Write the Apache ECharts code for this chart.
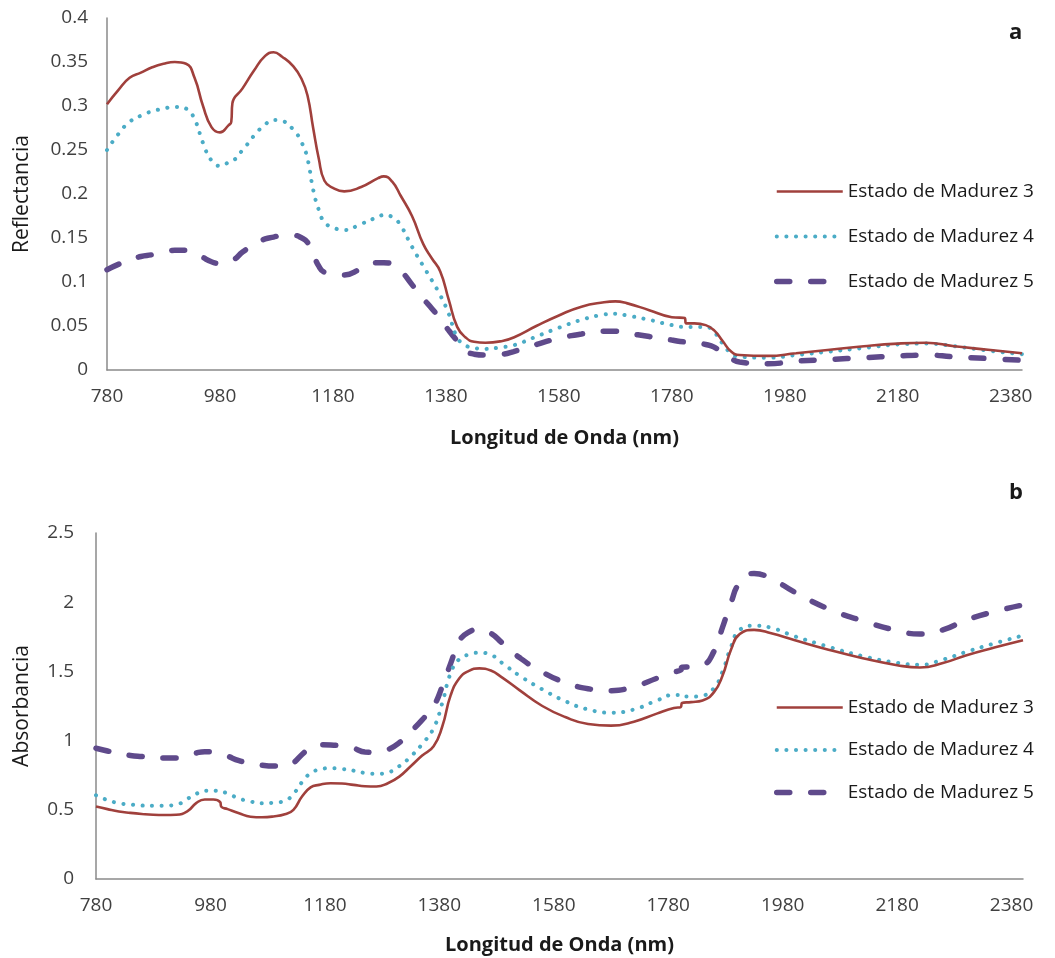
<!DOCTYPE html>
<html>
<head>
<meta charset="utf-8">
<script src="https://cdn.jsdelivr.net/npm/echarts@6/dist/echarts.min.js"></script>
<style>
  html, body { margin: 0; padding: 0; background: #ffffff; }
  #chart { width: 1055px; height: 958px; }
</style>
</head>
<body>
<div id="chart"></div>
<script>
// Series names (ripeness stages)
const stageNames = ['Estado de Madurez 3', 'Estado de Madurez 4', 'Estado de Madurez 5'];

// Panel a: reflectance spectra
const nmTop = [780, 800, 820, 840, 860, 880, 900, 920, 935, 950, 965, 980, 995, 1000, 1002, 1020, 1040, 1060,
  1075, 1090, 1110, 1125, 1135, 1145, 1155, 1165, 1180, 1200, 1230, 1260, 1270, 1285, 1300, 1320, 1340, 1355,
  1370, 1385, 1400, 1415, 1430, 1450, 1480, 1500, 1540, 1580, 1620, 1660, 1680, 1700, 1740, 1780, 1803, 1805,
  1820, 1840, 1855, 1870, 1885, 1900, 1950, 2000, 2060, 2120, 2180, 2230, 2280, 2340, 2400];
const refl3 = [0.302, 0.318, 0.332, 0.338, 0.344, 0.348, 0.350, 0.348, 0.332, 0.300, 0.276, 0.270, 0.278, 0.282, 0.303, 0.320, 0.340, 0.357,
  0.361, 0.356, 0.345, 0.330, 0.312, 0.275, 0.240, 0.215, 0.207, 0.203, 0.208, 0.218, 0.220, 0.214, 0.198, 0.175, 0.143, 0.127,
  0.112, 0.080, 0.049, 0.037, 0.032, 0.031, 0.033, 0.037, 0.050, 0.062, 0.072, 0.077, 0.078, 0.076, 0.068, 0.060, 0.059, 0.053,
  0.053, 0.051, 0.045, 0.033, 0.021, 0.017, 0.016, 0.019, 0.023, 0.027, 0.030, 0.031, 0.027, 0.023, 0.019];
const refl4 = [0.250, 0.268, 0.282, 0.289, 0.294, 0.297, 0.299, 0.297, 0.285, 0.258, 0.238, 0.232, 0.236, 0.239, 0.239, 0.250, 0.266, 0.279,
  0.284, 0.283, 0.273, 0.258, 0.240, 0.205, 0.182, 0.168, 0.162, 0.159, 0.166, 0.174, 0.176, 0.174, 0.164, 0.140, 0.118, 0.102,
  0.085, 0.064, 0.037, 0.028, 0.025, 0.024, 0.026, 0.028, 0.038, 0.048, 0.057, 0.063, 0.064, 0.062, 0.057, 0.051, 0.049, 0.049,
  0.049, 0.049, 0.043, 0.030, 0.019, 0.015, 0.014, 0.017, 0.021, 0.025, 0.029, 0.030, 0.027, 0.022, 0.018];
const refl5 = [0.114, 0.120, 0.125, 0.129, 0.131, 0.134, 0.136, 0.136, 0.134, 0.128, 0.123, 0.121, 0.124, 0.126, 0.126, 0.134, 0.143, 0.149,
  0.151, 0.153, 0.153, 0.150, 0.145, 0.132, 0.118, 0.111, 0.109, 0.108, 0.115, 0.122, 0.122, 0.120, 0.113, 0.097, 0.081, 0.070,
  0.058, 0.045, 0.033, 0.022, 0.018, 0.017, 0.018, 0.021, 0.029, 0.036, 0.041, 0.044, 0.044, 0.042, 0.038, 0.034, 0.032, 0.032,
  0.031, 0.029, 0.026, 0.019, 0.013, 0.009, 0.007, 0.010, 0.012, 0.014, 0.016, 0.017, 0.015, 0.013, 0.011];

// Panel b: absorbance spectra
const nmBottom = [780, 800, 820, 840, 860, 880, 900, 920, 940, 955, 970, 985, 997, 999, 1010, 1030, 1050, 1070,
  1090, 1110, 1125, 1140, 1155, 1170, 1190, 1210, 1230, 1250, 1270, 1290, 1310, 1330, 1350, 1370, 1385, 1400,
  1415, 1430, 1450, 1470, 1490, 1520, 1560, 1600, 1640, 1680, 1720, 1760, 1790, 1802, 1804, 1820, 1840, 1860,
  1875, 1890, 1905, 1930, 1960, 2000, 2060, 2120, 2180, 2220, 2260, 2300, 2350, 2400];
const abs3 = [0.524, 0.505, 0.488, 0.478, 0.470, 0.464, 0.462, 0.464, 0.490, 0.548, 0.574, 0.574, 0.555, 0.522, 0.505, 0.475, 0.450, 0.446,
  0.452, 0.468, 0.500, 0.596, 0.662, 0.680, 0.692, 0.690, 0.680, 0.670, 0.668, 0.692, 0.740, 0.815, 0.892, 0.960, 1.100, 1.330,
  1.450, 1.500, 1.522, 1.506, 1.455, 1.365, 1.250, 1.170, 1.120, 1.108, 1.137, 1.195, 1.236, 1.242, 1.272, 1.278, 1.290, 1.350,
  1.470, 1.660, 1.770, 1.800, 1.775, 1.727, 1.657, 1.595, 1.545, 1.528, 1.560, 1.615, 1.672, 1.725];
const abs4 = [0.605, 0.570, 0.548, 0.538, 0.531, 0.529, 0.530, 0.537, 0.580, 0.615, 0.637, 0.638, 0.633, 0.632, 0.618, 0.582, 0.560, 0.548,
  0.551, 0.565, 0.615, 0.700, 0.765, 0.790, 0.801, 0.795, 0.783, 0.766, 0.760, 0.770, 0.815, 0.885, 0.975, 1.090, 1.270, 1.490,
  1.590, 1.620, 1.635, 1.620, 1.560, 1.470, 1.370, 1.285, 1.225, 1.202, 1.225, 1.290, 1.330, 1.330, 1.318, 1.318, 1.325, 1.380,
  1.500, 1.680, 1.800, 1.830, 1.815, 1.755, 1.678, 1.610, 1.562, 1.548, 1.585, 1.640, 1.702, 1.760];
const abs5 = [0.945, 0.925, 0.905, 0.893, 0.885, 0.878, 0.874, 0.874, 0.890, 0.910, 0.920, 0.918, 0.906, 0.905, 0.888, 0.855, 0.836, 0.822,
  0.816, 0.816, 0.840, 0.900, 0.950, 0.970, 0.968, 0.960, 0.945, 0.918, 0.915, 0.935, 0.985, 1.065, 1.150, 1.250, 1.390, 1.560,
  1.720, 1.780, 1.804, 1.775, 1.705, 1.600, 1.495, 1.420, 1.375, 1.361, 1.390, 1.450, 1.495, 1.510, 1.530, 1.533, 1.545, 1.645,
  1.820, 2.000, 2.140, 2.208, 2.170, 2.075, 1.952, 1.865, 1.795, 1.770, 1.800, 1.870, 1.932, 1.980];

const FONT = '"Open Sans", "Liberation Sans", sans-serif';
const LABEL_COLOR = '#404040';
const AXIS_COLOR = '#8a8a8a';

const lineStyles = [
  { color: '#A0403C', width: 2.6, type: 'solid' },
  { color: '#4BACC6', width: 4, type: [0.1, 9.5], cap: 'round' },
  { color: '#5F4A8B', width: 5.5, type: [13, 21], cap: 'round' }
];

function pairs(xs, ys) {
  return xs.map((x, i) => [x, ys[i]]);
}

function makeSeries(idx, xs, ys, gridIdx) {
  return {
    name: stageNames[idx],
    type: 'line',
    xAxisIndex: gridIdx,
    yAxisIndex: gridIdx,
    data: pairs(xs, ys),
    symbol: 'none',
    smooth: 0.5,
    lineStyle: lineStyles[idx],
    itemStyle: { color: lineStyles[idx].color },
    z: 3 - idx
  };
}

function xAxisFor(gridIdx, gap) {
  return {
    gridIndex: gridIdx,
    type: 'value',
    min: 780,
    max: 2400,
    interval: 200,
    name: 'Longitud de Onda (nm)',
    nameLocation: 'middle',
    nameGap: gap,
    nameTextStyle: { fontFamily: FONT, fontSize: 20, fontWeight: 'bold', color: '#1a1a1a' },
    axisLine: { show: true, lineStyle: { color: AXIS_COLOR, width: 1.5 } },
    axisTick: { show: false },
    splitLine: { show: false },
    axisLabel: {
      showMaxLabel: false, margin: 17, fontFamily: FONT, fontSize: 19, color: LABEL_COLOR,
      formatter: (v) => String(v)
    }
  };
}

function yAxisFor(gridIdx, name, max, interval, gap, margin) {
  return {
    gridIndex: gridIdx,
    type: 'value',
    min: 0,
    max: max,
    interval: interval,
    name: name,
    nameLocation: 'middle',
    nameGap: gap,
    nameTextStyle: { fontFamily: FONT, fontSize: 21, color: '#1a1a1a' },
    axisLine: { show: true, lineStyle: { color: AXIS_COLOR, width: 1.5 } },
    axisTick: { show: false },
    splitLine: { show: false },
    axisLabel: { margin: margin, fontFamily: FONT, fontSize: 19, color: LABEL_COLOR }
  };
}

function legendFor(top, gap) {
  return {
    orient: 'vertical',
    left: 769,
    top: top,
    itemWidth: 66,
    itemHeight: 14,
    itemGap: gap,
    selectedMode: false,
    data: stageNames,
    itemStyle: { opacity: 0 },
    lineStyle: { width: 'inherit', type: 'inherit', cap: 'inherit' },
    textStyle: { fontFamily: FONT, fontSize: 19, color: '#1a1a1a' }
  };
}

const chart = echarts.init(document.getElementById('chart'), null, { renderer: 'canvas' });

chart.setOption({
  animation: false,
  backgroundColor: '#ffffff',
  grid: [
    { left: 107, top: 18, width: 915, height: 352 },
    { left: 96, top: 533, width: 927, height: 346 }
  ],
  xAxis: [xAxisFor(0, 58), xAxisFor(1, 56)],
  yAxis: [
    yAxisFor(0, 'Reflectancia', 0.4, 0.05, 74, 19),
    yAxisFor(1, 'Absorbancia', 2.5, 0.5, 63, 22)
  ],
  legend: [legendFor(177, 26), legendFor(693, 23.5)],
  graphic: [
    { type: 'text', left: 1009, top: 22, style: { text: 'a', font: 'bold 22px ' + FONT, fill: '#1a1a1a' } },
    { type: 'text', left: 1009, top: 482, style: { text: 'b', font: 'bold 22px ' + FONT, fill: '#1a1a1a' } }
  ],
  series: [
    makeSeries(0, nmTop, refl3, 0),
    makeSeries(1, nmTop, refl4, 0),
    makeSeries(2, nmTop, refl5, 0),
    makeSeries(0, nmBottom, abs3, 1),
    makeSeries(1, nmBottom, abs4, 1),
    makeSeries(2, nmBottom, abs5, 1)
  ]
});
</script>
</body>
</html>
